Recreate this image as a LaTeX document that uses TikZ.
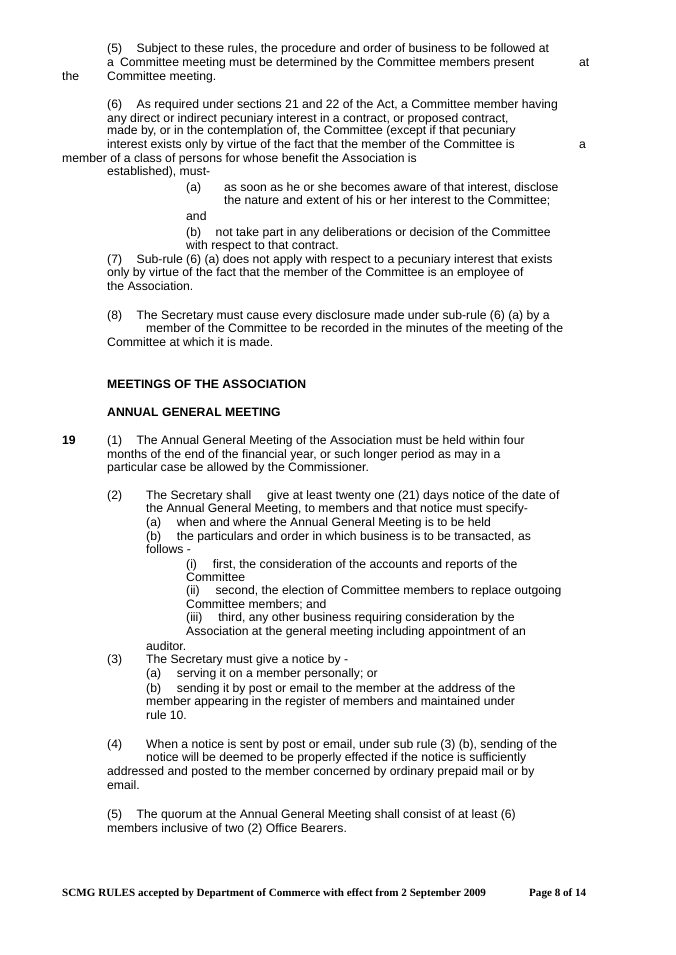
\documentclass[tikz,border=0pt]{standalone}
\usepackage{fontspec}
\setmainfont{Liberation Sans}
\newfontfamily\footfont{Liberation Serif}
\begin{document}
\begin{tikzpicture}
[x=1pt,y=-1pt,
% Styles
txt/.style={anchor=base west,inner sep=0pt,font=\fontsize{12.2}{14}\selectfont},
head/.style={txt,font=\fontsize{12.2}{14}\selectfont\bfseries},
foot/.style={anchor=base west,inner sep=0pt,font=\fontsize{11.1}{13}\selectfont\footfont\bfseries}]
\useasboundingbox[fill=white] (0,0) rectangle (675,955);
% Rule 18 (5)-(8)
\node[txt] (r5a) at (107,53) {(5)\hspace{1.2em}Subject to these rules, the procedure and order of business to be followed at};
\node[txt] (r5b) at (107,67) {a\hspace{0.5em}Committee meeting must be determined by the Committee members present};
\node[txt] (r5c) at (579,67) {at};
\node[txt] (r5d) at (62,81) {the};
\node[txt] (r5e) at (107,81) {Committee meeting.};
\node[txt] (r6a) at (107,109) {(6)\hspace{1.2em}As required under sections 21 and 22 of the Act, a Committee member having};
\node[txt] (r6b) at (107,122) {any direct or indirect pecuniary interest in a contract, or proposed contract,};
\node[txt] (r6c) at (107,135) {made by, or in the contemplation of, the Committee (except if that pecuniary};
\node[txt] (r6d) at (107,149) {interest exists only by virtue of the fact that the member of the Committee is};
\node[txt] (r6e) at (579,149) {a};
\node[txt] (r6f) at (62,162) {member of a class of persons for whose benefit the Association is};
\node[txt] (r6g) at (107,175) {established), must-};
\node[txt] (r6h) at (186,191) {(a)};
\node[txt] (r6i) at (224,191) {as soon as he or she becomes aware of that interest, disclose};
\node[txt] (r6j) at (224,204) {the nature and extent of his or her interest to the Committee;};
\node[txt] (r6k) at (186,220) {and};
\node[txt] (r6l) at (186,236) {(b)\hspace{1.2em}not take part in any deliberations or decision of the Committee};
\node[txt] (r6m) at (186,249) {with respect to that contract.};
\node[txt] (r7a) at (107,263) {(7)\hspace{1.2em}Sub-rule (6) (a) does not apply with respect to a pecuniary interest that exists};
\node[txt] (r7b) at (107,276) {only by virtue of the fact that the member of the Committee is an employee of};
\node[txt] (r7c) at (107,290) {the Association.};
\node[txt] (r8a) at (107,319) {(8)\hspace{1.2em}The Secretary must cause every disclosure made under sub-rule (6) (a) by a};
\node[txt] (r8b) at (146,332) {member of the Committee to be recorded in the minutes of the meeting of the};
\node[txt] (r8c) at (107,346) {Committee at which it is made.};
% Headings
\node[head] (h1) at (107,388) {MEETINGS OF THE ASSOCIATION};
\node[head] (h2) at (107,416) {ANNUAL GENERAL MEETING};
% Rule 19
\node[head] (n19) at (62,444) {19};
\node[txt] (a1a) at (107,444) {(1)\hspace{1.2em}The Annual General Meeting of the Association must be held within four};
\node[txt] (a1b) at (107,458) {months of the end of the financial year, or such longer period as may in a};
\node[txt] (a1c) at (107,471) {particular case be allowed by the Commissioner.};
\node[txt] (a2a) at (107,499) {(2)};
\node[txt] (a2b) at (146,499) {The Secretary shall\hspace{1.3em}give at least twenty one (21) days notice of the date of};
\node[txt] (a2c) at (146,512) {the Annual General Meeting, to members and that notice must specify-};
\node[txt] (a2d) at (146,526) {(a)\hspace{1.3em}when and where the Annual General Meeting is to be held};
\node[txt] (a2e) at (146,540) {(b)\hspace{1.3em}the particulars and order in which business is to be transacted, as};
\node[txt] (a2f) at (146,553) {follows -};
\node[txt] (a2g) at (186,568) {(i)\hspace{1.3em}first, the consideration of the accounts and reports of the};
\node[txt] (a2h) at (186,581) {Committee};
\node[txt] (a2i) at (186,594) {(ii)\hspace{1.3em}second, the election of Committee members to replace outgoing};
\node[txt] (a2j) at (186,608) {Committee members; and};
\node[txt] (a2k) at (186,621) {(iii)\hspace{1.3em}third, any other business requiring consideration by the};
\node[txt] (a2l) at (186,635) {Association at the general meeting including appointment of an};
\node[txt] (a2m) at (146,650) {auditor.};
\node[txt] (a3a) at (107,663) {(3)};
\node[txt] (a3b) at (146,663) {The Secretary must give a notice by -};
\node[txt] (a3c) at (146,677) {(a)\hspace{1.3em}serving it on a member personally; or};
\node[txt] (a3d) at (146,692) {(b)\hspace{1.3em}sending it by post or email to the member at the address of the};
\node[txt] (a3e) at (146,705) {member appearing in the register of members and maintained under};
\node[txt] (a3f) at (146,719) {rule 10.};
\node[txt] (a4a) at (107,748) {(4)};
\node[txt] (a4b) at (146,748) {When a notice is sent by post or email, under sub rule (3) (b), sending of the};
\node[txt] (a4c) at (146,761) {notice will be deemed to be properly effected if the notice is sufficiently};
\node[txt] (a4d) at (107,775) {addressed and posted to the member concerned by ordinary prepaid mail or by};
\node[txt] (a4e) at (107,789) {email.};
\node[txt] (a5a) at (107,818) {(5)\hspace{1.2em}The quorum at the Annual General Meeting shall consist of at least (6)};
\node[txt] (a5b) at (107,832) {members inclusive of two (2) Office Bearers.};
% Footer
\node[foot] (f1) at (62,896) {SCMG RULES accepted by Department of Commerce with effect from 2 September 2009};
\node[foot] (f2) at (529,896) {Page 8 of 14};
\end{tikzpicture}
\end{document}
